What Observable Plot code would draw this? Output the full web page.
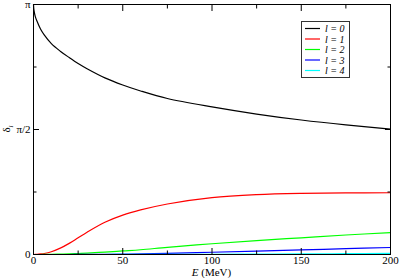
<!DOCTYPE html>
<html><head><meta charset="utf-8">
<script src="https://cdn.jsdelivr.net/npm/d3@7"></script>
<script src="https://cdn.jsdelivr.net/npm/@observablehq/plot@0.6"></script>
<style>
body{margin:0;background:#fff}
#chart{position:relative;width:399px;height:278px}
#chart svg{font-family:'Liberation Serif','Times New Roman',Tinos,serif}
</style>
</head><body><div id="chart"></div>
<script>
// Energy grid (MeV)
const energy = [0, 0.25, 1, 2, 4, 6, 10, 15, 20, 25, 30, 40, 50, 60, 75, 100, 125, 150, 175, 200];
// Phase shifts (radians)
const delta0 = [3.1416, 3.07, 2.99, 2.93, 2.83, 2.76, 2.65, 2.555, 2.475, 2.40, 2.335, 2.22, 2.13, 2.055, 1.96, 1.855, 1.765, 1.69, 1.628, 1.575];
const delta1 = [0, 0, 0.0005, 0.002, 0.007, 0.013, 0.035, 0.08, 0.14, 0.21, 0.28, 0.405, 0.495, 0.56, 0.635, 0.715, 0.752, 0.768, 0.774, 0.776];
const delta2 = [0, 0, 0, 0, 0, 0.001, 0.002, 0.005, 0.008, 0.012, 0.018, 0.03, 0.045, 0.06, 0.09, 0.135, 0.175, 0.21, 0.245, 0.275];
const delta3 = [0, 0, 0, 0, 0, 0, 0, 0, 0, 0.001, 0.002, 0.003, 0.005, 0.008, 0.015, 0.028, 0.042, 0.057, 0.073, 0.088];
const delta4 = [0, 0, 0, 0, 0, 0, 0, 0, 0, 0, 0, 0, 0.001, 0.001, 0.002, 0.003, 0.005, 0.007, 0.010, 0.013];
const series = [delta0, delta1, delta2, delta3, delta4];
const seriesLabels = ["l = 0", "l = 1", "l = 2", "l = 3", "l = 4"];
const seriesColors = ["#000000", "#ff0000", "#00ff00", "#0000ff", "#00ffff"];

const xMajor = [0, 50, 100, 150, 200];
const xMinor = [25, 75, 125, 175];
const yMajor = [0, Math.PI / 2, Math.PI];
const yMajorLabels = ["0", "π/2", "π"];
const yMinor = [Math.PI / 4, 3 * Math.PI / 4];
const xTitle = ["E", " (MeV)"];
const yTitle = ["δ", "l"];

const rows = [];
series.forEach((vals, i) => vals.forEach((v, j) => rows.push({E: energy[j], d: v, l: seriesLabels[i]})));

const font = "'Liberation Serif', 'Times New Roman', Tinos, serif";
const W = 399, H = 278, mL = 33, mR = 9, mT = 4, mB = 24;

const plot = Plot.plot({
  width: W, height: H,
  marginLeft: mL, marginRight: mR, marginTop: mT, marginBottom: mB,
  style: {fontFamily: font, fontSize: "11px", background: "#fff", color: "#000", overflow: "visible"},
  x: {domain: [0, 200], label: null},
  y: {domain: [0, Math.PI], label: null},
  color: {domain: seriesLabels, range: seriesColors},
  marks: [
    Plot.line(rows, {x: "E", y: "d", z: "l", stroke: "l", strokeWidth: 1.2, curve: "catmull-rom"}),
    Plot.frame({stroke: "#000", strokeWidth: 1}),
    // inward ticks on all four sides
    Plot.axisX(xMajor, {anchor: "bottom", tickSize: -6, tickFormat: () => ""}),
    Plot.axisX(xMinor, {anchor: "bottom", tickSize: -3.5, tickFormat: () => ""}),
    Plot.axisX(xMajor, {anchor: "top", tickSize: -6, tickFormat: () => ""}),
    Plot.axisX(xMinor, {anchor: "top", tickSize: -3.5, tickFormat: () => ""}),
    Plot.axisY(yMajor, {anchor: "left", tickSize: -6, tickFormat: () => ""}),
    Plot.axisY(yMinor, {anchor: "left", tickSize: -3.5, tickFormat: () => ""}),
    Plot.axisY(yMajor, {anchor: "right", tickSize: -6, tickFormat: () => ""}),
    Plot.axisY(yMinor, {anchor: "right", tickSize: -3.5, tickFormat: () => ""}),
    // labels
    Plot.axisX(xMajor, {anchor: "bottom", tickSize: 0, tickPadding: 2, tickFormat: d => String(d), fontSize: 11, fontFamily: font}),
    Plot.axisY(yMajor, {anchor: "left", tickSize: 0, tickPadding: 3, tickFormat: d => yMajorLabels[yMajor.indexOf(d)], fontSize: 11, fontFamily: font})
  ]
});
document.getElementById("chart").appendChild(plot);

const svg = d3.select(plot);
// x title
const xt = svg.append("text")
  .attr("x", mL + (W - mL - mR) / 2).attr("y", 275.5)
  .attr("text-anchor", "middle").style("font-family", font).attr("font-size", 11).attr("fill", "#000");
xt.append("tspan").attr("font-style", "italic").text(xTitle[0]);
xt.append("tspan").text(xTitle[1]);
// y title
const yt = svg.append("text")
  .attr("transform", `translate(9.5,${mT + (H - mT - mB) / 2}) rotate(-90)`)
  .attr("text-anchor", "middle").style("font-family", font).attr("font-size", 11).attr("fill", "#000");
yt.append("tspan").text(yTitle[0]);
yt.append("tspan").attr("font-size", 7).attr("dy", 3).attr("font-style", "italic").text(yTitle[1]);

// legend
const lg = svg.append("g").style("font-family", font).attr("font-size", 10).attr("font-style", "italic").attr("text-anchor", "start");
lg.append("rect").attr("x", 301.5).attr("y", 21.5).attr("width", 48).attr("height", 56)
  .attr("fill", "#fff").attr("stroke", "#333").attr("stroke-width", 1);
seriesLabels.forEach((lab, i) => {
  const y = 28.5 + i * 10.5;
  lg.append("line").attr("x1", 305).attr("x2", 320).attr("y1", y).attr("y2", y)
    .attr("stroke", seriesColors[i]).attr("stroke-width", 1.2);
  lg.append("text").attr("x", 325).attr("y", y).attr("dy", "0.35em").attr("fill", "#000").text(lab);
});
</script>
</body></html>
